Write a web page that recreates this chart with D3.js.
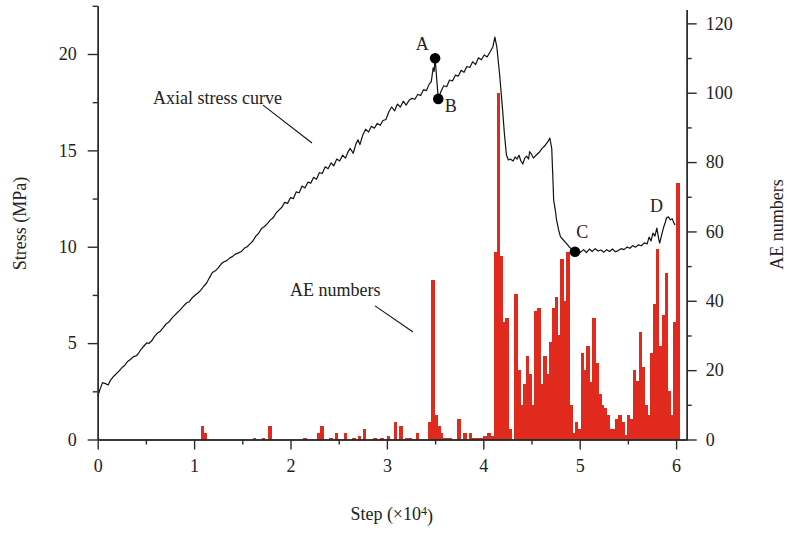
<!DOCTYPE html>
<html>
<head>
<meta charset="utf-8">
<script src="https://cdn.jsdelivr.net/npm/d3@7/dist/d3.min.js"></script>
<style>
  html, body { margin: 0; padding: 0; background: #fff; }
  svg { display: block; }
  text { font-family: "Liberation Serif", "Times New Roman", serif; fill: #222; }
</style>
</head>
<body>
<svg id="chart" width="787" height="533"></svg>
<script>
// Axial stress curve: step (×10^4) and stress (MPa)
const stressStep = [
  0.00,0.02,0.05,0.08,0.11,0.13,0.16,0.19,0.22,0.25,0.28,0.31,0.34,0.37,0.40,0.42,0.45,0.48,0.51,0.53,
  0.56,0.59,0.62,0.65,0.68,0.71,0.74,0.77,0.80,0.83,0.86,0.89,0.92,0.95,0.98,1.01,1.04,1.07,1.10,1.13,
  1.16,1.19,1.22,1.25,1.28,1.31,1.34,1.37,1.40,1.43,1.46,1.49,1.52,1.55,1.58,1.61,1.64,1.67,1.70,1.73,
  1.76,1.79,1.82,1.85,1.88,1.91,1.94,1.97,2.00,2.03,2.06,2.09,2.12,2.15,2.18,2.21,2.24,2.27,2.30,2.33,
  2.36,2.39,2.42,2.45,2.48,2.51,2.54,2.57,2.60,2.62,2.65,2.68,2.70,2.72,2.75,2.78,2.81,2.84,2.87,2.90,
  2.93,2.96,2.99,3.02,3.05,3.08,3.11,3.14,3.17,3.20,3.23,3.26,3.29,3.32,3.35,3.38,3.41,3.44,3.46,3.48,
  3.49,3.50,3.533,3.56,3.59,3.62,3.65,3.68,3.71,3.74,3.77,3.80,3.83,3.86,3.89,3.92,3.95,3.98,4.01,4.04,
  4.07,4.10,4.12,4.14,4.17,4.20,4.22,4.24,4.26,4.28,4.31,4.33,4.35,4.37,4.39,4.41,4.43,4.45,4.47,4.48,
  4.50,4.52,4.55,4.58,4.61,4.64,4.67,4.69,4.71,4.72,4.73,4.75,4.76,4.78,4.80,4.83,4.86,4.89,4.92,4.951,
  4.98,5.01,5.04,5.07,5.10,5.13,5.16,5.19,5.22,5.25,5.28,5.31,5.34,5.37,5.40,5.43,5.46,5.49,5.52,5.55,
  5.58,5.61,5.64,5.67,5.70,5.72,5.74,5.76,5.78,5.80,5.82,5.83,5.85,5.87,5.89,5.90,5.92,5.94,5.96,5.98,
  5.99
];
const stressValue = [
  2.22,2.55,2.95,2.90,2.83,3.05,3.25,3.40,3.55,3.72,3.84,4.05,4.15,4.30,4.34,4.45,4.68,4.85,5.02,4.98,
  5.12,5.35,5.52,5.62,5.80,6.00,6.10,6.30,6.45,6.60,6.75,6.92,7.08,7.15,7.35,7.48,7.60,7.75,7.95,8.12,
  8.40,8.66,8.75,8.90,9.10,9.22,9.28,9.42,9.50,9.62,9.68,9.75,9.92,10.00,10.15,10.30,10.55,10.70,10.95,11.05,
  11.20,11.38,11.50,11.75,11.90,12.05,12.30,12.25,12.55,12.50,12.85,12.80,13.15,13.05,13.35,13.30,13.60,13.50,13.85,13.80,
  14.15,14.05,14.35,14.20,14.55,14.45,14.75,14.60,14.95,15.10,14.85,15.35,15.55,15.30,15.80,16.10,15.95,16.25,16.15,16.40,
  16.30,16.55,16.60,17.00,17.25,17.05,17.40,17.25,17.55,17.35,17.60,17.70,17.65,17.90,17.85,18.15,18.10,18.45,18.55,19.28,
  19.10,19.78,17.67,18.05,18.35,18.30,18.65,18.60,18.90,18.85,19.15,19.05,19.35,19.30,19.60,19.45,19.80,19.70,19.95,19.85,
  20.10,20.38,20.88,20.38,18.90,17.10,15.80,14.76,14.50,14.55,14.45,14.66,14.55,14.75,14.45,14.29,14.60,14.70,14.55,14.93,
  14.80,14.60,14.76,14.90,15.10,15.25,15.45,15.64,15.10,13.80,12.42,11.80,11.39,10.90,10.52,10.35,10.19,10.00,9.85,9.74,
  9.80,9.72,9.85,9.70,9.88,9.75,9.90,9.78,9.83,9.72,9.85,9.75,9.88,9.74,9.80,9.90,9.85,9.98,9.92,10.05,
  9.98,10.10,10.05,10.20,10.15,10.50,10.30,10.71,10.55,10.97,10.40,10.19,10.60,11.00,11.30,11.49,11.55,11.40,11.45,11.20,
  11.13
];

// Acoustic emission counts per bin: bin start (×10^4 steps) and count
const aeStep = [
  1.07,1.10,1.61,1.70,1.77,2.13,2.28,2.31,2.40,2.46,2.55,2.64,2.70,2.75,2.86,2.93,3.00,3.07,3.13,3.19,
  3.22,3.30,3.43,3.46,3.49,3.52,3.55,3.58,3.61,3.64,3.73,3.79,3.85,3.88,3.91,3.94,3.97,4.00,4.04,4.08,
  4.11,4.14,4.17,4.20,4.23,4.26,
  4.32,4.35,4.38,4.41,4.44,4.47,4.50,4.53,4.56,4.59,4.62,4.65,4.68,4.71,4.74,4.77,4.80,4.83,4.86,4.89,
  4.92,4.95,4.98,5.01,5.04,5.07,5.10,5.13,5.16,5.19,5.22,5.25,5.28,5.31,5.34,5.37,5.40,5.43,5.46,5.49,
  5.52,5.55,5.58,5.61,5.64,5.67,5.70,5.73,5.76,5.79,5.82,5.85,5.88,5.91,5.94,5.97,6.00
];
const aeCount = [
  4,2,0.5,0.5,4,0.5,2,4,0.5,2,2,0.5,1,3,0.5,0.5,1,5,4,0.5,
  0.5,2,5,46,7,4,2,0.3,0.3,0.3,6,2,2,0.3,0.3,0.3,0.3,1,2,1,
  54,100,53,34,35,3,
  42,20,10,16,24,19,10,37,38,16,24,19,28,38,41,30,52,40,54,10,
  2,5,3,25,20,27,16.5,35,22,13,10,9,7,3,3,6,7,5,1.2,7,
  6,20,17,31,21,10,7,25,39,55,27,36,48,14,7,34,74
];
const aeBinWidth = 0.03;

// Tick values
const stressMajor = [0, 5, 10, 15, 20];
const stressMinor = [2.5, 7.5, 12.5, 17.5, 22.5];
const aeMajor = [0, 20, 40, 60, 80, 100, 120];
const aeMinor = [10, 30, 50, 70, 90, 110];
const stepMajor = [0, 1, 2, 3, 4, 5, 6];
const stepMinor = [0.5, 1.5, 2.5, 3.5, 4.5, 5.5];

// Marked states on the curve
const markerName = ["A", "B", "C"];
const markerStep = [3.50, 3.533, 4.951];
const markerStress = [19.78, 17.67, 9.74];

// Point labels (step, stress of the text baseline start)
const labelText = ["A", "B", "C", "D"];
const labelStep = [3.30, 3.60, 4.965, 5.73];
const labelStress = [20.2, 17.0, 10.44, 11.79];

const svg = d3.select("#chart");
const left = 97.7, right = 686.7, bottom = 439.5;

const x = d3.scaleLinear().domain([0, 6.11]).range([left, right]);
const yS = d3.scaleLinear().domain([0, 22.5]).range([bottom, 5.8]);
const yA = d3.scaleLinear().domain([0, 124]).range([bottom, 9.5]);

const red = "#e02a1d";
const axisColor = "#2b2b2b";
const fontSize = "18px";

// AE bars
svg.append("g")
  .attr("shape-rendering", "crispEdges")
  .selectAll("rect")
  .data(aeStep.map((s, i) => ({ s, c: aeCount[i] })))
  .join("rect")
  .attr("x", d => x(d.s))
  .attr("width", d => x(d.s + aeBinWidth) - x(d.s) + 0.6)
  .attr("y", d => yA(d.c))
  .attr("height", d => yA(0) - yA(d.c))
  .attr("fill", red);

// Stress curve
const line = d3.line().x(d => x(d[0])).y(d => yS(d[1]));
svg.append("path")
  .datum(stressStep.map((s, i) => [s, stressValue[i]]))
  .attr("d", line)
  .attr("fill", "none")
  .attr("stroke", "#111")
  .attr("stroke-width", 1.2)
  .attr("stroke-linejoin", "round");

// Axis helper
function styleAxis(g) {
  g.selectAll(".domain").attr("stroke", axisColor).attr("stroke-width", 1.4);
  g.selectAll(".tick line").attr("stroke", axisColor).attr("stroke-width", 1.4);
  g.selectAll(".tick text")
    .attr("fill", "#222")
    .style("font-family", '"Liberation Serif", "Times New Roman", serif')
    .style("font-size", fontSize);
}
const intFmt = d3.format("d");

// Left axis
svg.append("g").attr("transform", `translate(${left},0)`)
  .call(d3.axisLeft(yS).tickValues(stressMinor).tickSize(5).tickFormat("").tickSizeOuter(0))
  .call(styleAxis);
svg.append("g").attr("transform", `translate(${left},0)`)
  .call(d3.axisLeft(yS).tickValues(stressMajor).tickSize(10).tickPadding(11).tickFormat(intFmt).tickSizeOuter(0))
  .call(styleAxis);

// Right axis
svg.append("g").attr("transform", `translate(${right},0)`)
  .call(d3.axisRight(yA).tickValues(aeMinor).tickSize(5).tickFormat("").tickSizeOuter(0))
  .call(styleAxis);
svg.append("g").attr("transform", `translate(${right},0)`)
  .call(d3.axisRight(yA).tickValues(aeMajor).tickSize(10).tickPadding(9).tickFormat(intFmt).tickSizeOuter(0))
  .call(styleAxis);

// Bottom axis
svg.append("g").attr("transform", `translate(0,${bottom})`)
  .call(d3.axisBottom(x).tickValues(stepMinor).tickSize(5).tickFormat("").tickSizeOuter(0))
  .call(styleAxis);
svg.append("g").attr("transform", `translate(0,${bottom})`)
  .call(d3.axisBottom(x).tickValues(stepMajor).tickSize(10).tickPadding(10).tickFormat(intFmt).tickSizeOuter(0))
  .call(styleAxis);

// Axis titles
svg.append("text")
  .attr("transform", `translate(26,${yS(11.2)}) rotate(-90)`)
  .attr("text-anchor", "middle")
  .style("font-size", fontSize)
  .text("Stress (MPa)");

svg.append("text")
  .attr("transform", `translate(783,${yA(62)}) rotate(-90)`)
  .attr("text-anchor", "middle")
  .style("font-size", fontSize)
  .text("AE numbers");

const stepTitle = svg.append("text")
  .attr("x", x(3.05))
  .attr("y", 520)
  .attr("text-anchor", "middle")
  .style("font-size", fontSize);
stepTitle.append("tspan").text("Step (×10");
stepTitle.append("tspan").attr("dy", "-0.4em").style("font-size", "12px").text("4");
stepTitle.append("tspan").attr("dy", "0.4em").text(")");

// Annotations with leader lines
svg.append("text")
  .attr("x", x(0.574)).attr("y", yS(17.4))
  .style("font-size", fontSize)
  .text("Axial stress curve");
svg.append("line")
  .attr("x1", x(1.715)).attr("y1", yS(17.35))
  .attr("x2", x(2.223)).attr("y2", yS(15.38))
  .attr("stroke", "#111").attr("stroke-width", 1.1);

svg.append("text")
  .attr("x", x(1.995)).attr("y", yS(7.44))
  .style("font-size", fontSize)
  .text("AE numbers");
svg.append("line")
  .attr("x1", x(2.877)).attr("y1", yS(6.93))
  .attr("x2", x(3.271)).attr("y2", yS(5.58))
  .attr("stroke", "#111").attr("stroke-width", 1.1);

// Marker dots
svg.append("g")
  .selectAll("circle")
  .data(markerName.map((n, i) => ({ n, s: markerStep[i], v: markerStress[i] })))
  .join("circle")
  .attr("cx", d => x(d.s))
  .attr("cy", d => yS(d.v))
  .attr("r", 5.3)
  .attr("fill", "#000");

// Point labels
svg.append("g")
  .selectAll("text")
  .data(labelText.map((t, i) => ({ t, s: labelStep[i], v: labelStress[i] })))
  .join("text")
  .attr("x", d => x(d.s))
  .attr("y", d => yS(d.v))
  .style("font-size", fontSize)
  .text(d => d.t);
</script>
</body>
</html>
